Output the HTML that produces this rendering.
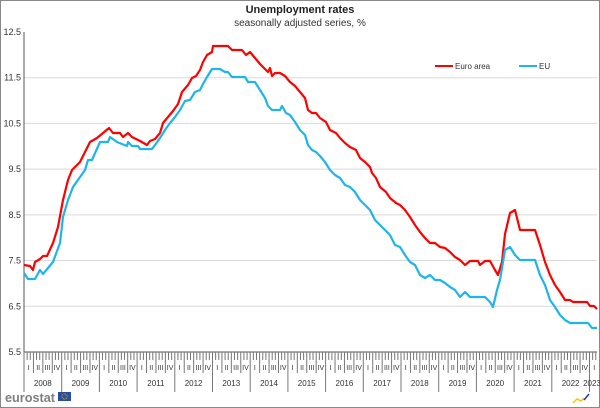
<!DOCTYPE html>
<html><head><meta charset="utf-8"><style>
body{margin:0;background:#fff}
svg{display:block;font-family:"Liberation Sans",sans-serif}
</style></head><body>
<svg id="s" width="600" height="408" viewBox="0 0 600 408" xmlns="http://www.w3.org/2000/svg">
<rect x="0.5" y="0.5" width="599" height="407" fill="#fff" stroke="#888"/>
<text x="300" y="13" text-anchor="middle" font-size="11" font-weight="bold" fill="#222">Unemployment rates</text>
<text x="300" y="26" text-anchor="middle" font-size="10" fill="#333">seasonally adjusted series, %</text>
<g id="grid" stroke="#d9d9d9" stroke-width="1"></g>
<g id="ylab" font-size="9" fill="#333" text-anchor="end"></g>
<line x1="24" y1="32" x2="24" y2="352" stroke="#555"/>
<line x1="24" y1="352" x2="597" y2="352" stroke="#555"/>
<g id="ticks" stroke="#777" stroke-width="1"></g>
<g id="xlab" font-size="8" fill="#333" text-anchor="middle"></g>
<polyline fill="none" stroke="#ff0000" stroke-width="2.2" stroke-linejoin="round" points="24,265 30,266 33,270 35,262 40,259 43,256 47,256 53,243 58,227 63,200 68,180 72,170 80,162 90,142 97,138 103,133 109,128 113,133 120,133 123,137 128,133 132,137 140,141 147,145 150,141 155,139 160,133 163,123 168,117 173,111 178,104 182,92 188,85 192,78 196,76 200,70 203,62 207,55 212,52 213,46 228,46 232,50 242,50 246,55 250,52 255,58 260,64 264,68 268,72 270,68 272,76 275,73 280,73 285,76 290,82 295,86 300,92 305,98 308,110 312,113 316,113 320,118 326,122 330,130 336,133 340,138 345,143 350,147 356,150 360,158 365,162 370,167 372,173 376,178 380,187 386,192 390,198 396,203 400,205 405,210 410,217 415,225 420,232 425,238 430,243 435,243 440,247 445,248 450,252 455,257 460,260 465,265 470,261 478,261 480,265 485,261 490,261 495,270 498,275 502,262 505,234 510,213 515,210 520,230 535,230 540,245 545,262 550,275 555,285 560,292 565,300 570,300 573,302 587,302 590,306 594,306 597,309"/>
<polyline fill="none" stroke="#1fb4ec" stroke-width="2.2" stroke-linejoin="round" points="24,273 28,279 35,279 40,270 43,274 53,262 60,243 63,217 68,200 73,187 85,170 88,160 92,160 100,142 108,142 110,137 117,142 127,146 128,142 132,146 138,146 140,149 152,149 155,145 160,138 165,130 170,123 175,117 180,110 185,101 190,100 195,92 200,90 203,84 207,77 212,69 220,69 225,72 228,72 232,77 245,77 248,82 255,82 260,90 265,98 268,106 272,110 280,110 282,106 286,113 290,115 295,122 300,130 305,135 308,145 312,150 316,152 320,156 325,162 330,170 335,175 340,178 345,185 350,187 355,192 360,200 365,205 370,210 375,220 380,225 385,230 390,235 395,245 400,247 405,255 410,262 415,265 420,275 425,278 430,275 435,280 440,280 445,283 450,287 455,290 460,297 465,292 470,297 485,297 490,302 493,307 497,290 500,280 505,250 510,247 515,255 520,260 535,260 540,275 545,285 550,300 555,307 560,315 565,320 570,323 588,323 592,328 597,328"/>
<line x1="435" y1="66" x2="453" y2="66" stroke="#ff0000" stroke-width="2"/>
<text x="455" y="69" font-size="8" fill="#333">Euro area</text>
<line x1="519" y1="66" x2="537" y2="66" stroke="#1fb4ec" stroke-width="2"/>
<text x="539" y="69" font-size="8" fill="#333">EU</text>
<text x="5" y="402" font-size="12.5" font-weight="bold" fill="#7f7f7f" textLength="50" lengthAdjust="spacingAndGlyphs">eurostat</text>
<rect x="58" y="392" width="13" height="9" fill="#2a4da0"/>
<circle cx="64.5" cy="396.5" r="2.6" fill="none" stroke="#f5d400" stroke-width="0.8" stroke-dasharray="0.8 0.8"/>
<path d="M573 403 l4 -4 l4 2 l3 -3" stroke="#f5c400" stroke-width="1.5" fill="none"/>
<path d="M584 400 l5 -6" stroke="#1f3fa0" stroke-width="1.5" fill="none"/>
</svg>
<script>
var NS="http://www.w3.org/2000/svg";
function el(p,t,a,txt){var e=document.createElementNS(NS,t);for(var k in a)e.setAttribute(k,a[k]);if(txt)e.textContent=txt;document.getElementById(p).appendChild(e);}
var vals=["12.5","11.5","10.5","9.5","8.5","7.5","6.5","5.5"];
for(var i=0;i<8;i++){var y=32+i*45.71;if(i>0&&i<7)el("grid","line",{x1:24,x2:597,y1:y,y2:y});el("ylab","text",{x:21,y:y+3},vals[i]);}
var mw=37.7/12,x0=24;
for(var m=0;m<=182;m++){var x=x0+m*mw;var yb=(m%12==0);var q=(m%3==0);
el("ticks","line",{x1:x,x2:x,y1:352,y2:yb?392:(q?373:360)});}
var qs=["I","II","III","IV"];
for(var yr=0;yr<16;yr++){var bx=x0+yr*37.7;
for(var qq=0;qq<4;qq++){var qx=bx+(qq*3+1.5)*mw;if(qx<597)el("xlab","text",{x:qx,y:370,"font-size":7},qs[qq]);}
el("xlab","text",{x:(yr==15?592:bx+18.8),y:386},String(2008+yr));}
</script>
</body></html>
